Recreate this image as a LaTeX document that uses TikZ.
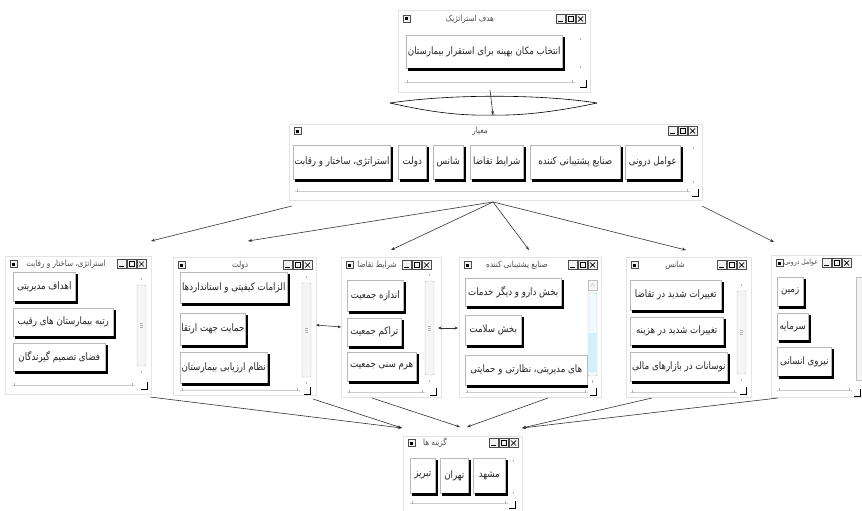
\documentclass[tikz,border=0pt]{standalone}
\usepackage{fontspec}
\usetikzlibrary{arrows.meta}
\TeXXeTstate=1
\newfontfamily\fa[Script=Arabic,FakeStretch=0.85]{DejaVu Sans}

\tikzset{
 winbox/.style={draw=gray!22, fill=white, line width=0.4pt, inner sep=0pt},
 btnbox/.style={draw=gray!55, fill=white, line width=0.5pt, inner xsep=1pt, inner ysep=0pt, font={\fa\fontsize{10.2}{11}\selectfont}, text=black!85},
 wtitle/.style={inner sep=0pt, font={\fa\fontsize{8.5}{10}\selectfont}, text=black!70},
 conn/.style={line width=0.6pt, black!80, -{Stealth[length=4pt,width=3pt]}},
 dconn/.style={line width=0.6pt, black!80, {Stealth[length=3.5pt,width=3pt]}-{Stealth[length=3.5pt,width=3pt]}},
 ctlbox/.style={draw=black!70, fill=gray!10, line width=0.4pt},
 scr/.style={draw=gray!50, fill=gray!8, line width=0.4pt},
 hscr/.style={draw=gray!40, line width=0.4pt},
}

% button: name, x1, y1, x2, y2, text
\newcommand\wbtn[6]{%
 \node[btnbox, anchor=west, minimum width={#4-#2}, minimum height={#5-#3}] (#1) at (#2,{(#3+#5)/2}) {#6};
 \fill[black] ([xshift=2pt]#1.south west) rectangle ([xshift=2.5pt,yshift=-2.5pt]#1.south east);
 \fill[black] ([yshift=-2pt]#1.north east) rectangle ([xshift=2.5pt,yshift=-2.5pt]#1.south east);
}
% window: name, x1, y1, x2, y2, title, title x, title y, right end of controls
\newcommand\wwin[9]{%
 \node[winbox, minimum width={#4-#2}, minimum height={#5-#3}] (#1) at ({(#2+#4)/2},{(#3+#5)/2}) {};
 \draw[ctlbox] ({#2+5},{#8-3.5}) rectangle ({#2+12},{#8+3.5});
 \fill[black] ({#2+7},{#8-1.5}) rectangle ({#2+10},{#8+1.5});
 \node[wtitle] (#1t) at (#7,#8) {#6};
 \draw[ctlbox] ({#9-30},{#8-4.5}) rectangle ({#9-21},{#8+4.5});
 \draw[line width=0.8pt] ({#9-28},{#8+2}) -- ({#9-23},{#8+2});
 \draw[ctlbox] ({#9-20},{#8-4.5}) rectangle ({#9-11},{#8+4.5});
 \draw[line width=0.5pt] ({#9-18},{#8-2.5}) rectangle ({#9-13},{#8+2.5});
 \draw[line width=0.9pt] ({#9-18},{#8-2.5}) -- ({#9-13},{#8-2.5});
 \draw[ctlbox] ({#9-10},{#8-4.5}) rectangle ({#9-1},{#8+4.5});
 \draw[line width=0.7pt] ({#9-8},{#8-2.5}) -- ({#9-3},{#8+2.5}) ({#9-8},{#8+2.5}) -- ({#9-3},{#8-2.5});
}
% vertical scrollbar with thumb: x1, y1, x2, y2
\newcommand\vscr[4]{%
 \draw[gray!60, line width=0.4pt] ({(#1+#3)/2},{#2+3}) -- ({(#1+#3)/2},{#2+1});
 \draw[scr, rounded corners=1pt] (#1,{#2+8}) rectangle (#3,{#4-8});
 \draw[gray!60, line width=0.4pt] ({(#1+#3)/2-1.5},{(#2+#4)/2-2}) -- ({(#1+#3)/2+1.5},{(#2+#4)/2-2})
   ({(#1+#3)/2-1.5},{(#2+#4)/2}) -- ({(#1+#3)/2+1.5},{(#2+#4)/2})
   ({(#1+#3)/2-1.5},{(#2+#4)/2+2}) -- ({(#1+#3)/2+1.5},{(#2+#4)/2+2});
 \draw[gray!60, line width=0.4pt] ({(#1+#3)/2},{#4-3}) -- ({(#1+#3)/2},{#4-1});
}
% vertical scrollbar ticks only: x, y1, y2
\newcommand\vtick[3]{%
 \draw[gray!60, line width=0.4pt] (#1,{#2}) -- (#1,{#2+2}) (#1,{#3-2}) -- (#1,#3);
}
% horizontal scrollbar: x1, x2, y
\newcommand\hscrl[3]{%
 \draw[hscr] (#1,#3) -- (#2,#3);
 \draw[gray!60, line width=0.4pt] ({#1+2},{#3-2}) -- ({#1+2},{#3+1}) ({#2-3},{#3-2}) -- ({#2-3},{#3+1});
}
% size grip: x, y
\newcommand\grip[2]{%
 \draw[line width=0.9pt] (#1,{#2-7}) -- (#1,#2) -- ({#1-6},#2);
}

\begin{document}
\begin{tikzpicture}[x=1pt,y=-1pt]
\useasboundingbox (0,0) rectangle (862,511);
\fill[white] (0,0) rectangle (862,511);

% ---------- top window
\wwin{wtop}{398}{10}{590}{92}{\beginR هدف استراتژیک\endR}{470}{19}{586}
\wbtn{goal}{406}{35}{562}{68}{\beginR انتخاب مکان بهینه برای استقرار بیمارستان\endR}
\vtick{580}{38}{68}
\hscrl{405}{575}{82}
\grip{586}{87}

% lens
\coordinate (topout) at (490,90);
\coordinate (lensB) at (493,115);
\coordinate (lensL) at (390,103);
\coordinate (lensR) at (597,103);
\draw[line width=0.6pt] (lensL) .. controls (450,94) and (540,94) .. (lensR);
\draw[line width=0.6pt] (lensL) .. controls (430,112) and (460,116) .. (lensB) .. controls (525,116) and (565,110) .. (lensR);
\draw[conn] (topout) -- (lensB);

% ---------- criteria window
\wwin{wmid}{289}{124}{702}{200}{\beginR معیار\endR}{480}{131}{698}
\wbtn{m1}{625}{145}{680}{179}{\beginR عوامل درونی\endR}
\wbtn{m2}{530}{145}{620}{179}{\beginR صنایع پشتیبانی کننده\endR}
\wbtn{m3}{470}{145}{523}{179}{\beginR شرایط تقاضا\endR}
\wbtn{m4}{433}{145}{463}{179}{\beginR شانس\endR}
\wbtn{m5}{398}{145}{426}{179}{\beginR دولت\endR}
\wbtn{m6}{293}{145}{390}{179}{\beginR استراتژی، ساختار و رقابت\endR}
\vtick{693}{147}{183}
\hscrl{295}{690}{191}
\grip{698}{196}

% ---------- window 1
\wwin{w1}{5}{256}{151}{394}{\beginR استراتژی، ساختار و رقابت\endR}{66}{264}{147}
\wbtn{a1}{13}{272}{75}{301}{\beginR اهداف مدیریتی\endR}
\wbtn{a2}{13}{308}{113}{336}{\beginR رتبه بیمارستان های رقیب\endR}
\wbtn{a3}{13}{343}{105}{371}{\beginR فضای تصمیم گیرندگان\endR}
\vscr{137}{277}{146}{374}
\hscrl{12}{135}{385}
\grip{147}{389}

% ---------- window 2
\wwin{w2}{173}{257}{316}{395}{\beginR دولت\endR}{240}{265}{313}
\wbtn{b1}{180}{272}{287}{303}{\beginR الزامات کیفیتی و استانداردها\endR}
\wbtn{b2}{180}{313}{228}{345}{\beginR حمایت جهت ارتقا\endR}
\wbtn{b3}{180}{352}{267}{383}{\beginR نظام ارزیابی بیمارستان\endR}
\vscr{302}{275}{311}{385}
\hscrl{180}{300}{390}
\grip{310}{394}

% ---------- window 3
\wwin{w3}{341}{257}{441}{397}{\beginR شرایط تقاضا\endR}{377}{265}{432}
\wbtn{c1}{347}{280}{403}{311}{\beginR اندازه جمعیت\endR}
\wbtn{c2}{347}{318}{401}{346}{\beginR تراکم جمعیت\endR}
\wbtn{c3}{347}{352}{416}{381}{\beginR هرم سنی جمعیت\endR}
\vscr{425}{273}{434}{383}
\hscrl{347}{425}{392}
\grip{436}{395}

% ---------- window 4
\wwin{w4}{459}{257}{601}{397}{\beginR صنایع پشتیبانی کننده\endR}{517}{265}{598}
\wbtn{d1}{465}{278}{561}{306}{\beginR بخش دارو و دیگر خدمات\endR}
\wbtn{d2}{465}{315}{521}{345}{\beginR بخش سلامت\endR}
\wbtn{d3}{465}{355}{587}{385}{\beginR های مدیریتی، نظارتی و حمایتی\endR}
\fill[white] (587.6,276) rectangle (600,390);
\draw[scr] (588,280) rectangle (597,290);
\draw[gray!60, line width=0.4pt] (590.5,286.5) -- (592.5,283.5) -- (594.5,286.5);
\draw[draw=gray!50, fill=cyan!6, line width=0.4pt, rounded corners=1pt] (588,293) rectangle (597,376);
\fill[cyan!18] (588.4,333) rectangle (596.6,372);
\draw[gray!60, line width=0.4pt] (592.5,380) -- (592.5,383);
\hscrl{465}{588}{392}
\grip{596}{395}

% ---------- window 5
\wwin{w5}{626}{257}{751}{397}{\beginR شانس\endR}{675}{265}{747}
\wbtn{e1}{630}{280}{721}{310}{\beginR تغییرات شدید در تقاضا\endR}
\wbtn{e2}{630}{317}{723}{345}{\beginR تغییرات شدید در هزینه\endR}
\wbtn{e3}{630}{352}{727}{381}{\beginR نوسانات در بازارهای مالی\endR}
\vscr{737}{283}{746}{382}
\hscrl{630}{737}{392}
\grip{746}{394}

% ---------- window 6
\wwin{w6}{771}{255}{862}{397}{\fontsize{7.2}{9}\selectfont\beginR عوامل درونی\endR}{801}{263}{852}
\wbtn{f1}{777}{277}{803}{306}{\beginR زمین\endR}
\wbtn{f2}{777}{313}{808}{340}{\beginR سرمایه\endR}
\wbtn{f3}{777}{347}{831}{376}{\beginR نیروی انسانی\endR}
\draw[scr] (856,277) rectangle (866,380);
\hscrl{777}{852}{390}
\grip{860}{396}

% ---------- alternatives window
\wwin{w7}{403}{436}{522}{515}{\beginR گزینه ها\endR}{435}{443}{519}
\wbtn{g1}{473}{458}{505}{493}{\beginR مشهد\endR}
\wbtn{g2}{440}{458}{468}{493}{\beginR تهران\endR}
\wbtn{g3}{410}{458}{435}{493}{\beginR تبریز\endR}
\vtick{513}{460}{494}
\hscrl{410}{508}{503}
\grip{515}{508}

% ---------- fan from criteria
\coordinate (fan) at (493,202);
\coordinate (midL) at (292,206);
\coordinate (midR) at (702,206);
\coordinate (in1) at (151,241);
\coordinate (in2) at (248,241);
\coordinate (in3) at (391,250);
\coordinate (in4) at (529,250);
\coordinate (in5) at (686,250);
\coordinate (in6) at (774,242);
\draw[conn] (midL) -- (in1);
\draw[conn] (fan) -- (in2);
\draw[conn] (fan) -- (in3);
\draw[conn] (fan) -- (in4);
\draw[conn] (fan) -- (in5);
\draw[conn] (midR) -- (in6);

% ---------- double arrows
\coordinate (da1) at (316,325);
\coordinate (db1) at (341,327);
\coordinate (da2) at (438,328);
\coordinate (db2) at (458,328);
\draw[dconn] (da1) -- (db1);
\draw[dconn] (da2) -- (db2);

% ---------- to alternatives
\coordinate (o1) at (150,397);
\coordinate (o2) at (313,399);
\coordinate (o3) at (372,398);
\coordinate (o4) at (548,398);
\coordinate (o5) at (652,398);
\coordinate (o6) at (778,398);
\coordinate (gL) at (402,428);
\coordinate (gM1) at (460,427);
\coordinate (gM2) at (467,427);
\coordinate (gR) at (522,428);
\draw[conn] (o1) -- (gL);
\draw[conn] (o2) -- (gL);
\draw[conn] (o3) -- (gM1);
\draw[conn] (o4) -- (gM2);
\draw[conn] (o5) -- (gR);
\draw[conn] (o6) -- (gR);
\end{tikzpicture}
\end{document}
